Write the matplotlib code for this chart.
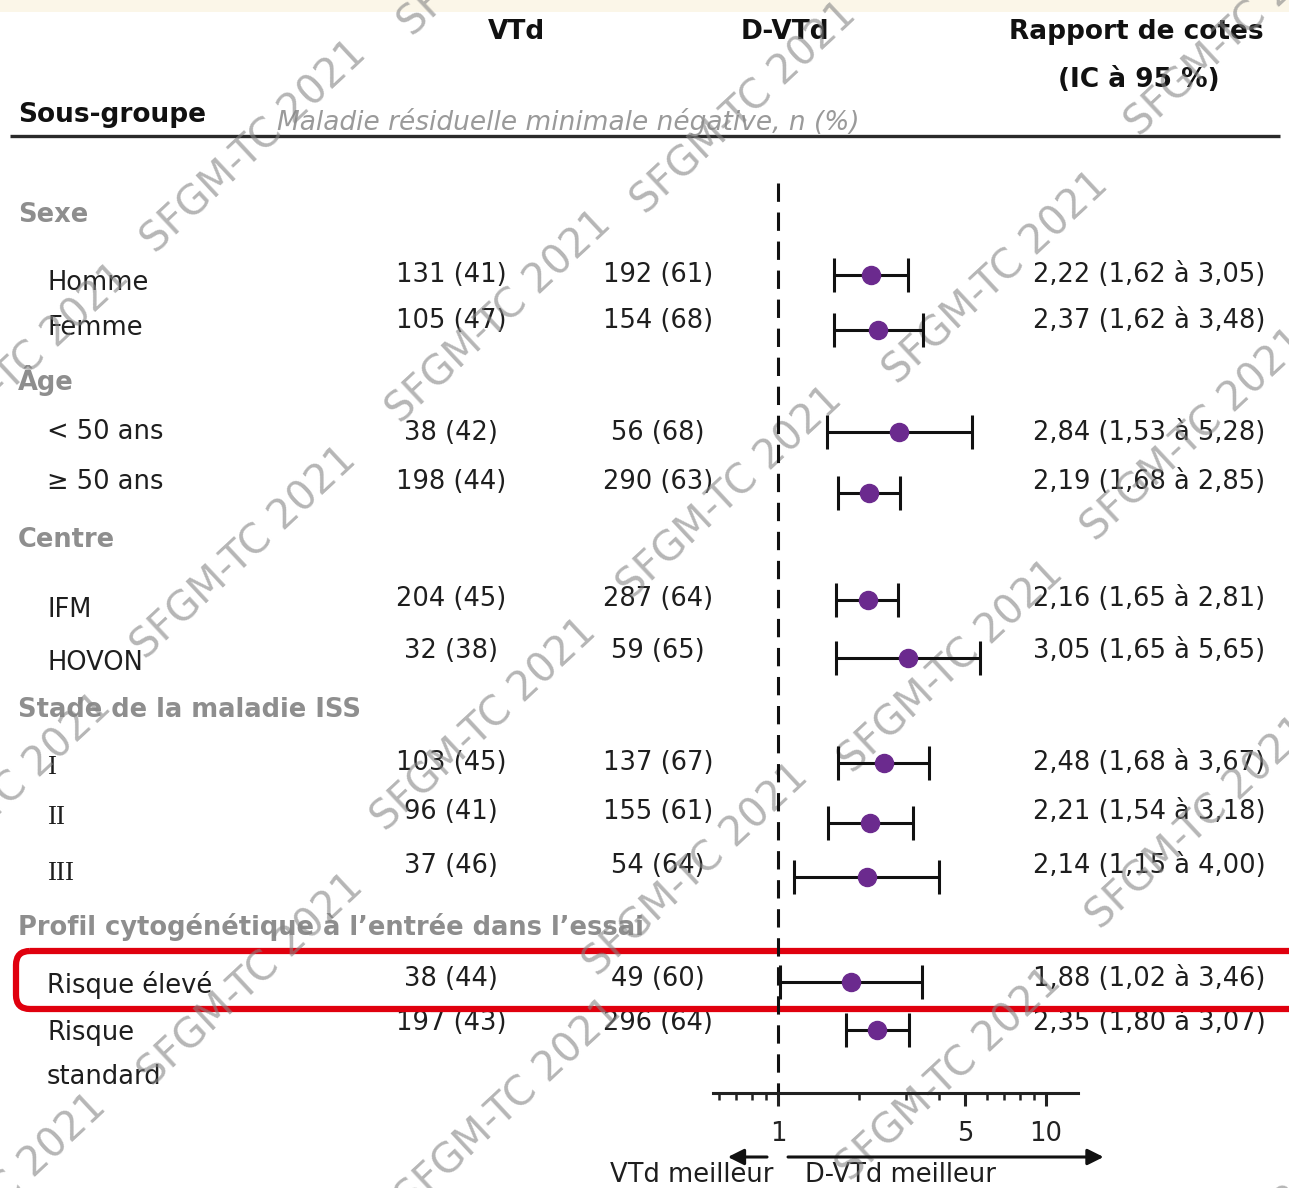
import matplotlib
matplotlib.use("Agg")
import matplotlib.pyplot as plt
from matplotlib.patches import FancyBboxPatch, Rectangle
from matplotlib.ticker import NullFormatter
import numpy as np

# ---- data ----
groups = ["Sexe", "Âge", "Centre", "Stade de la maladie ISS",
          "Profil cytogénétique à l’entrée dans l’essai"]
subgroups = ["Homme", "Femme", "< 50 ans", "≥ 50 ans", "IFM", "HOVON",
             "I", "II", "III", "Risque élevé", "Risque\nstandard"]
vtd_n = [131, 105, 38, 198, 204, 32, 103, 96, 37, 38, 197]
vtd_pct = [41, 47, 42, 44, 45, 38, 45, 41, 46, 44, 43]
dvtd_n = [192, 154, 56, 290, 287, 59, 137, 155, 54, 49, 296]
dvtd_pct = [61, 68, 68, 63, 64, 65, 67, 61, 64, 60, 64]
odds_ratio = [2.22, 2.37, 2.84, 2.19, 2.16, 3.05, 2.48, 2.21, 2.14, 1.88, 2.35]
ci_low = [1.62, 1.62, 1.53, 1.68, 1.65, 1.65, 1.68, 1.54, 1.15, 1.02, 1.80]
ci_high = [3.05, 3.48, 5.28, 2.85, 2.81, 5.65, 3.67, 3.18, 4.00, 3.46, 3.07]
major_ticks = [1, 5, 10]
minor_ticks = [0.6, 0.7, 0.8, 0.9, 2, 3, 4, 6, 7, 8, 9]

# ---- layout (pixel rows, top = 0) ----
W, H = 1289, 1188
group_y = [215, 380, 540, 710, 927]
label_y = [283, 328, 432, 482, 610, 663, 767, 817, 873, 985, 1033]
value_y = [275, 321, 433, 482, 599, 651, 763, 812, 866, 979, 1023]
forest_y = [275, 330, 432, 493, 600, 658, 763, 823, 877, 982, 1030]
roman = {"I", "II", "III"}

x_one, px_decade = 778, 268      # where OR = 1 sits and the log-decade width
xmin, xmax = 0.5, 14
axis_y = 1093

FS = 18.5
DARK = "#1e1e1e"
GREY = "#8e8e8e"
PURPLE = "#6b2a8e"

fig = plt.figure(figsize=(W / 100, H / 100), dpi=100)

# text layer in pixel coordinates
tax = fig.add_axes([0, 0, 1, 1])
tax.set_xlim(0, W)
tax.set_ylim(H, 0)
tax.axis("off")

tax.add_patch(Rectangle((0, 0), W, 12, color="#fbf6e8", lw=0))

bold = dict(family="DejaVu Sans", weight="bold", color="#111111", fontsize=19)
tax.text(516, 32, "VTd", ha="center", va="center", **bold)
tax.text(785, 32, "D-VTd", ha="center", va="center", **bold)
tax.text(1136, 32, "Rapport de cotes", ha="center", va="center", **bold)
tax.text(1139, 80, "(IC à 95 %)", ha="center", va="center", **bold)
tax.text(18, 115, "Sous-groupe", ha="left", va="center", **bold)
tax.text(277, 122, "Maladie résiduelle minimale négative, n (%)", ha="left",
         va="center", fontsize=19, style="italic", color="#9a9a9a")
tax.plot([10, 1280], [136, 136], color="#2a2a2a", lw=2.4, solid_capstyle="butt")

for g, y in zip(groups, group_y):
    tax.text(18, y, g, ha="left", va="center", fontsize=FS, weight="bold", color=GREY)

for i, name in enumerate(subgroups):
    fam = "Liberation Serif" if name in roman else "DejaVu Sans"
    for k, line in enumerate(name.split("\n")):
        tax.text(47, label_y[i] + 44 * k, line, ha="left", va="center",
                 fontsize=FS + (1 if name in roman else 0), family=fam, color=DARK)
    tax.text(451, value_y[i], f"{vtd_n[i]} ({vtd_pct[i]})", ha="center",
             va="center", fontsize=FS, color=DARK)
    tax.text(658, value_y[i], f"{dvtd_n[i]} ({dvtd_pct[i]})", ha="center",
             va="center", fontsize=FS, color=DARK)
    or_txt = f"{odds_ratio[i]:.2f} ({ci_low[i]:.2f} à {ci_high[i]:.2f})".replace(".", ",")
    tax.text(1033, value_y[i], or_txt, ha="left", va="center", fontsize=FS, color=DARK)

# highlighted high-risk row
tax.add_patch(FancyBboxPatch((16, 951), 1300, 58,
                             boxstyle="round,pad=0,rounding_size=14",
                             fill=False, ec="#e0000e", lw=4.5, zorder=4))

tax.text(773, 1175, "VTd meilleur", ha="right", va="center", fontsize=FS, color=DARK)
tax.text(805, 1175, "D-VTd meilleur", ha="left", va="center", fontsize=FS, color=DARK)

# forest panel on a log scale
left_px = x_one + np.log10(xmin) * px_decade
right_px = x_one + np.log10(xmax) * px_decade
fax = fig.add_axes([left_px / W, 0, (right_px - left_px) / W, 1])
fax.patch.set_alpha(0)
fax.set_xscale("log")
fax.set_xlim(xmin, xmax)
fax.set_ylim(H, 0)
for side in ["top", "left", "right"]:
    fax.spines[side].set_visible(False)
fax.spines["bottom"].set_position(("data", axis_y))
fax.spines["bottom"].set_bounds(0.57, 13.2)
fax.spines["bottom"].set_linewidth(2.2)
fax.spines["bottom"].set_color("#222222")
fax.set_yticks([])
fax.set_xticks(major_ticks, labels=[str(t) for t in major_ticks])
fax.set_xticks(minor_ticks, minor=True)
fax.xaxis.set_minor_formatter(NullFormatter())
fax.tick_params(axis="x", which="major", length=9, width=2.2, pad=11,
                labelsize=FS, colors="#222222")
fax.tick_params(axis="x", which="minor", length=5, width=1.8, colors="#222222")

fax.plot([1, 1], [183, axis_y], color="#111111", lw=2.2, dashes=(6, 3.5), zorder=1)

xerr = [np.array(odds_ratio) - np.array(ci_low), np.array(ci_high) - np.array(odds_ratio)]
fax.errorbar(odds_ratio, forest_y, xerr=xerr, fmt="o", color=PURPLE, ms=13,
             mec=PURPLE, ecolor="#111111", elinewidth=2.2, capsize=12,
             capthick=2.2, zorder=3)

arrow = dict(arrowstyle="-|>", lw=2.2, color="#111111", mutation_scale=24,
             shrinkA=0, shrinkB=0)
fax.annotate("", xy=(0.65, 1157), xytext=(0.91, 1157), arrowprops=arrow,
             annotation_clip=False)
fax.annotate("", xy=(16.4, 1157), xytext=(1.09, 1157), arrowprops=arrow,
             annotation_clip=False)

# "SFGM-TC 2021" watermark tiled over the figure
marks = [(255, 147), (745, 108), (512, -70), (1239, 30), (18, 370), (500, 317),
         (997, 278), (1195, 435), (245, 553), (731, 493), (0, 800), (485, 725),
         (952, 667), (1200, 823), (-5, 1200), (252, 980), (697, 870),
         (510, 1105), (950, 1075), (1250, 1240)]
for mx, my in marks:
    tax.text(mx, my, "SFGM-TC 2021", rotation=43, rotation_mode="anchor",
             ha="center", va="center", fontsize=29,
             color="#858585", alpha=0.6, zorder=6, clip_on=True)

fig.savefig("out.png", dpi=100, facecolor="white")
